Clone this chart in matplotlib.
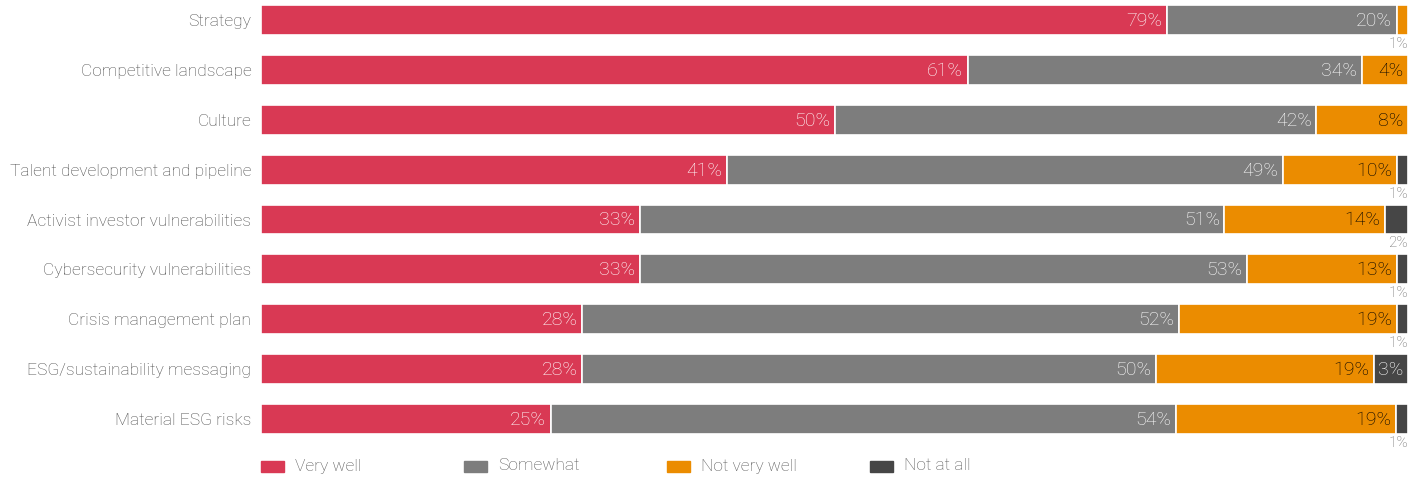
"""
Stacked horizontal bar chart: how well the board understands each topic.
"""

import numpy as np
import matplotlib.pyplot as plt
from matplotlib.patches import Rectangle

plt.rcParams['font.family'] = ['Roboto', 'DejaVu Sans']

categories = ['Strategy', 'Competitive landscape', 'Culture',
              'Talent development and pipeline', 'Activist investor vulnerabilities',
              'Cybersecurity vulnerabilities', 'Crisis management plan',
              'ESG/sustainability messaging', 'Material ESG risks']
series = ['Very well', 'Somewhat', 'Not very well', 'Not at all']
very_well = [79, 61, 50, 41, 33, 33, 28, 28, 25]
somewhat = [20, 34, 42, 49, 51, 53, 52, 50, 54]
not_very_well = [1, 4, 8, 10, 14, 13, 19, 19, 19]
not_at_all = [0, 0, 0, 1, 2, 1, 1, 3, 1]

colors = ['#D93954', '#7D7D7D', '#EB8C00', '#464646']
text_colors = ['white', 'white', 'black', 'white']

W, H = 1420, 479
fig = plt.figure(figsize=(W / 100, H / 100), dpi=100)
# axes placed so rows sit where the reference has them
y_top, y_bot = 2.5, 436.5
ax = fig.add_axes([261 / W, 1 - y_bot / H, (1408 - 261) / W, (y_bot - y_top) / H])

values = np.array([very_well, somewhat, not_very_well, not_at_all], dtype=float)
# rounded shares don't always add to 100, so stretch each row to full width
widths = values / values.sum(axis=0) * 100
y = np.arange(len(categories))
left = np.zeros(len(categories))
for k, name in enumerate(series):
    for i in range(len(categories)):
        v = int(values[k, i])
        w = widths[k, i]
        if v == 0:
            continue
        ax.barh(y[i], w, left=left[i], height=0.6, color=colors[k],
                edgecolor='white', linewidth=1.2)
        right = left[i] + w
        if v <= 2:
            # small share: label sits under the bar
            ax.text(right, y[i] + 0.34, f'{v}%', ha='right', va='top',
                    fontsize=11, color='#6a6a6a', fontweight='light')
        else:
            ax.text(right - 0.4, y[i] + 0.02, f'{v}%', ha='right', va='center',
                    fontsize=14, color=text_colors[k], fontweight='light')
    left += widths[k]

ax.set_xlim(0, 100)
ax.set_ylim(8.35, -0.35)
ax.set_yticks(y)
ax.set_yticklabels(categories, fontsize=12.5, color='#4a4a4a', fontweight='light')
ax.tick_params(axis='y', length=0, pad=7)
ax.set_xticks([])
for s in ax.spines.values():
    s.set_visible(False)

# legend row
for k, name in enumerate(series):
    x0 = 261 + k * 203
    fig.add_artist(Rectangle((x0 / W, 1 - 472 / H), 23 / W, 11 / H,
                             color=colors[k], transform=fig.transFigure))
    fig.text((x0 + 34) / W, 1 - 466 / H, name, ha='left', va='center',
             fontsize=12.5, color='#555555', fontweight='light')

fig.savefig('out.png', dpi=100)
